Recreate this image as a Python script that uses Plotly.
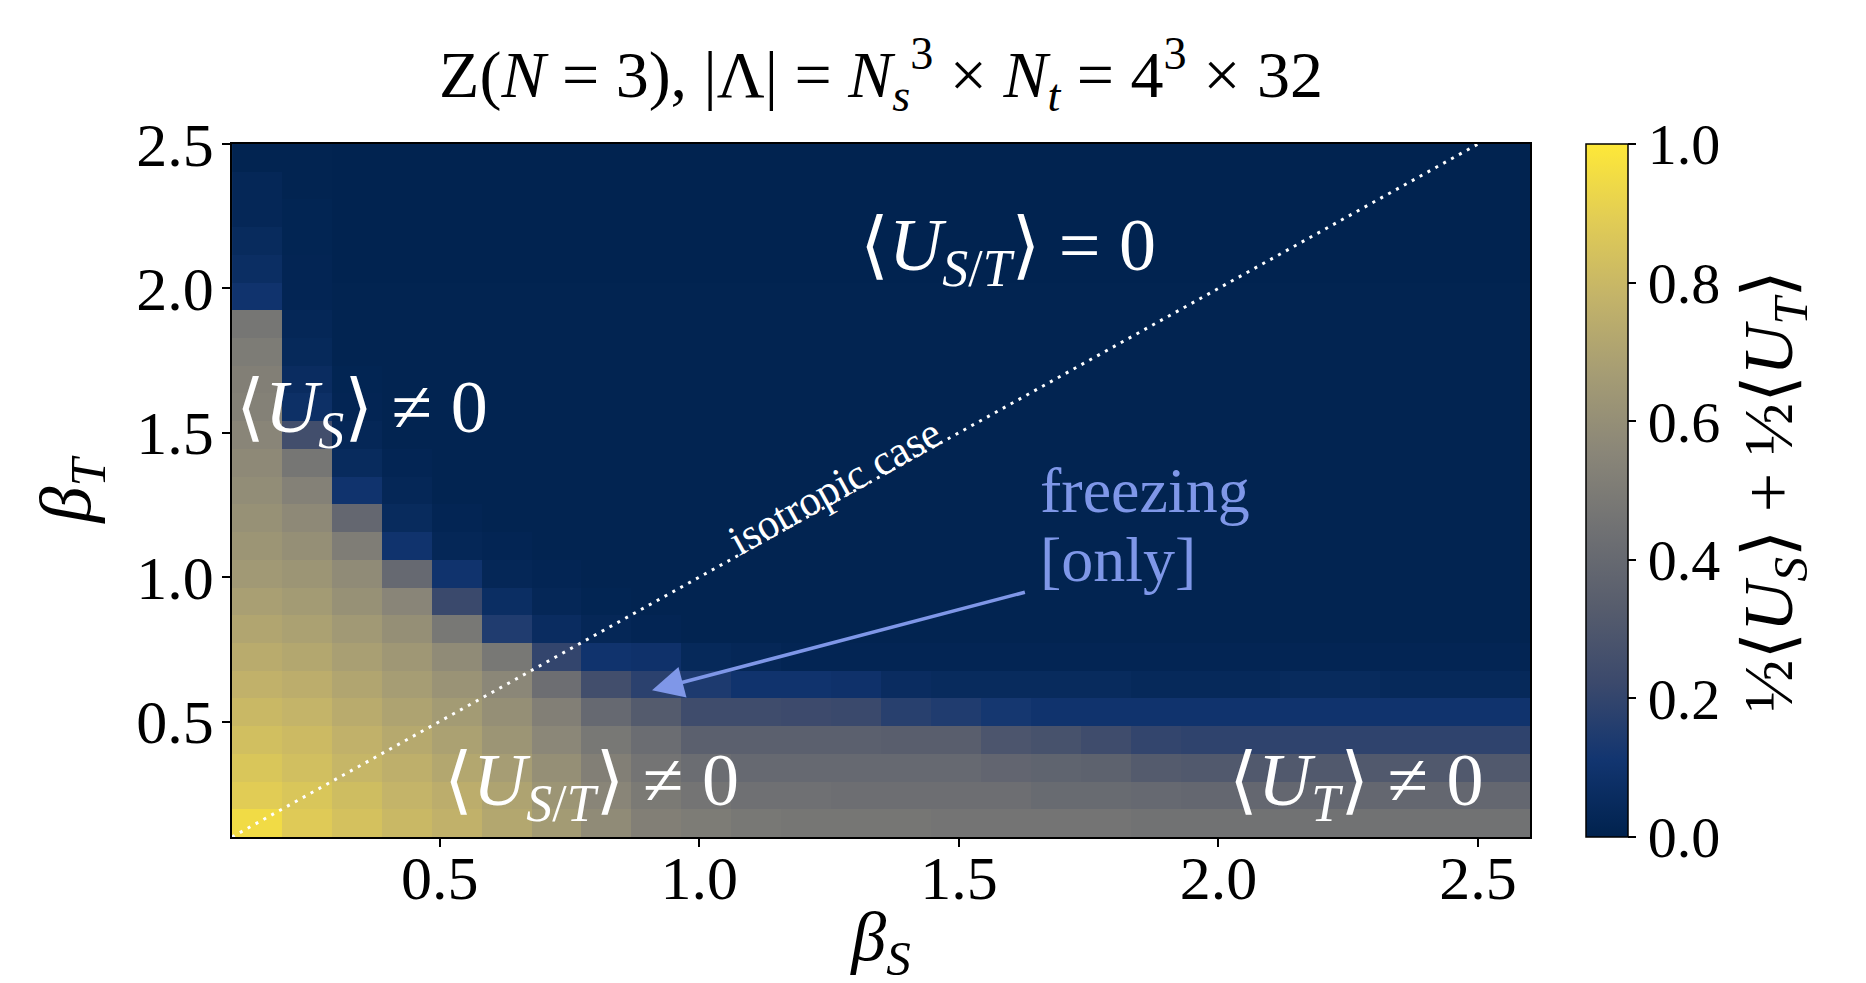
import numpy as np
import plotly.graph_objects as go

# grid of couplings (cell centres)
n_s, n_t = 26, 25
beta_S = list(np.round(0.1 + (np.arange(n_s) + 0.5) * (2.5 / n_s), 4))
beta_T = list(np.round(0.1 + (np.arange(n_t) + 0.5) * (2.4 / n_t), 4))

# order parameter 1/2<U_S> + 1/2<U_T>, one list per beta_T row (bottom -> top)
row00 = [0.95, 0.88, 0.84, 0.80, 0.77, 0.72, 0.66, 0.58, 0.52, 0.50, 0.48, 0.47, 0.47, 0.47, 0.46, 0.46, 0.46, 0.46, 0.45, 0.45, 0.45, 0.45, 0.45, 0.45, 0.45, 0.45]
row01 = [0.89, 0.86, 0.82, 0.78, 0.75, 0.70, 0.63, 0.55, 0.49, 0.46, 0.44, 0.44, 0.43, 0.43, 0.43, 0.43, 0.41, 0.41, 0.40, 0.39, 0.39, 0.39, 0.39, 0.39, 0.39, 0.39]
row02 = [0.86, 0.83, 0.79, 0.76, 0.72, 0.67, 0.60, 0.52, 0.46, 0.42, 0.40, 0.40, 0.40, 0.40, 0.40, 0.38, 0.37, 0.36, 0.32, 0.31, 0.31, 0.31, 0.31, 0.31, 0.31, 0.31]
row03 = [0.83, 0.81, 0.77, 0.73, 0.69, 0.63, 0.56, 0.48, 0.42, 0.35, 0.35, 0.35, 0.35, 0.34, 0.34, 0.29, 0.27, 0.24, 0.20, 0.19, 0.19, 0.19, 0.19, 0.19, 0.19, 0.19]
row04 = [0.80, 0.78, 0.74, 0.70, 0.66, 0.60, 0.52, 0.40, 0.32, 0.24, 0.24, 0.23, 0.22, 0.17, 0.15, 0.12, 0.10, 0.10, 0.10, 0.10, 0.10, 0.10, 0.10, 0.10, 0.10, 0.10]
row05 = [0.77, 0.75, 0.71, 0.67, 0.62, 0.56, 0.43, 0.25, 0.18, 0.14, 0.10, 0.10, 0.09, 0.06, 0.05, 0.05, 0.05, 0.05, 0.04, 0.04, 0.04, 0.05, 0.05, 0.04, 0.04, 0.04]
row06 = [0.74, 0.72, 0.68, 0.64, 0.58, 0.48, 0.20, 0.10, 0.09, 0.04, 0.03, 0.02, 0.02, 0.02, 0.02, 0.02, 0.02, 0.02, 0.02, 0.02, 0.02, 0.02, 0.02, 0.02, 0.02, 0.02]
row07 = [0.71, 0.69, 0.65, 0.60, 0.48, 0.15, 0.06, 0.03, 0.02, 0.01, 0.01, 0.01, 0.01, 0.01, 0.01, 0.01, 0.01, 0.01, 0.01, 0.01, 0.01, 0.01, 0.01, 0.01, 0.01, 0.01]
row08 = [0.68, 0.66, 0.61, 0.55, 0.22, 0.07, 0.03, 0.015, 0.01, 0.01, 0.01, 0.01, 0.01, 0.01, 0.01, 0.01, 0.01, 0.01, 0.01, 0.01, 0.01, 0.01, 0.01, 0.01, 0.01, 0.01]
row09 = [0.65, 0.63, 0.58, 0.40, 0.10, 0.03, 0.02, 0.01, 0.01, 0.01, 0.01, 0.01, 0.01, 0.01, 0.01, 0.01, 0.01, 0.01, 0.01, 0.01, 0.01, 0.01, 0.01, 0.01, 0.01, 0.01]
row10 = [0.63, 0.60, 0.51, 0.10, 0.03, 0.02, 0.01, 0.01, 0.01, 0.01, 0.01, 0.01, 0.01, 0.01, 0.01, 0.01, 0.01, 0.01, 0.01, 0.01, 0.01, 0.01, 0.01, 0.01, 0.01, 0.01]
row11 = [0.61, 0.57, 0.39, 0.05, 0.02, 0.01, 0.01, 0.01, 0.01, 0.01, 0.01, 0.01, 0.01, 0.01, 0.01, 0.01, 0.01, 0.01, 0.01, 0.01, 0.01, 0.01, 0.01, 0.01, 0.01, 0.01]
row12 = [0.59, 0.53, 0.10, 0.03, 0.01, 0.01, 0.01, 0.01, 0.01, 0.01, 0.01, 0.01, 0.01, 0.01, 0.01, 0.01, 0.01, 0.01, 0.01, 0.01, 0.01, 0.01, 0.01, 0.01, 0.01, 0.01]
row13 = [0.57, 0.47, 0.05, 0.02, 0.01, 0.01, 0.01, 0.01, 0.01, 0.01, 0.01, 0.01, 0.01, 0.01, 0.01, 0.01, 0.01, 0.01, 0.01, 0.01, 0.01, 0.01, 0.01, 0.01, 0.01, 0.01]
row14 = [0.55, 0.25, 0.03, 0.01, 0.01, 0.01, 0.01, 0.01, 0.01, 0.01, 0.01, 0.01, 0.01, 0.01, 0.01, 0.01, 0.01, 0.01, 0.01, 0.01, 0.01, 0.01, 0.01, 0.01, 0.01, 0.01]
row15 = [0.53, 0.08, 0.02, 0.01, 0.01, 0.01, 0.01, 0.01, 0.01, 0.01, 0.01, 0.01, 0.01, 0.01, 0.01, 0.01, 0.01, 0.01, 0.01, 0.01, 0.01, 0.01, 0.01, 0.01, 0.01, 0.01]
row16 = [0.52, 0.06, 0.015, 0.01, 0.01, 0.01, 0.01, 0.01, 0.01, 0.01, 0.01, 0.01, 0.01, 0.01, 0.01, 0.01, 0.01, 0.01, 0.01, 0.01, 0.01, 0.01, 0.01, 0.01, 0.01, 0.01]
row17 = [0.50, 0.04, 0.01, 0.01, 0.01, 0.01, 0.01, 0.01, 0.01, 0.01, 0.01, 0.01, 0.01, 0.01, 0.01, 0.01, 0.01, 0.01, 0.01, 0.01, 0.01, 0.01, 0.01, 0.01, 0.01, 0.01]
row18 = [0.47, 0.03, 0.01, 0.01, 0.01, 0.01, 0.01, 0.01, 0.01, 0.01, 0.01, 0.01, 0.01, 0.01, 0.01, 0.01, 0.01, 0.01, 0.01, 0.01, 0.01, 0.01, 0.01, 0.01, 0.01, 0.01]
row19 = [0.10, 0.02, 0.01, 0.01, 0.01, 0.01, 0.01, 0.01, 0.01, 0.01, 0.01, 0.01, 0.01, 0.01, 0.01, 0.01, 0.01, 0.01, 0.01, 0.01, 0.01, 0.01, 0.01, 0.01, 0.01, 0.01]
row20 = [0.07, 0.02, 0.005, 0.005, 0.005, 0.005, 0.005, 0.005, 0.005, 0.005, 0.005, 0.005, 0.005, 0.005, 0.005, 0.005, 0.005, 0.005, 0.005, 0.005, 0.005, 0.005, 0.005, 0.005, 0.005, 0.005]
row21 = [0.05, 0.015, 0.005, 0.005, 0.005, 0.005, 0.005, 0.005, 0.005, 0.005, 0.005, 0.005, 0.005, 0.005, 0.005, 0.005, 0.005, 0.005, 0.005, 0.005, 0.005, 0.005, 0.005, 0.005, 0.005, 0.005]
row22 = [0.03, 0.015, 0.005, 0.005, 0.005, 0.005, 0.005, 0.005, 0.005, 0.005, 0.005, 0.005, 0.005, 0.005, 0.005, 0.005, 0.005, 0.005, 0.005, 0.005, 0.005, 0.005, 0.005, 0.005, 0.005, 0.005]
row23 = [0.03, 0.01, 0.005, 0.005, 0.005, 0.005, 0.005, 0.005, 0.005, 0.005, 0.005, 0.005, 0.005, 0.005, 0.005, 0.005, 0.005, 0.005, 0.005, 0.005, 0.005, 0.005, 0.005, 0.005, 0.005, 0.005]
row24 = [0.01, 0.01, 0.005, 0.005, 0.005, 0.005, 0.005, 0.005, 0.005, 0.005, 0.005, 0.005, 0.005, 0.005, 0.005, 0.005, 0.005, 0.005, 0.005, 0.005, 0.005, 0.005, 0.005, 0.005, 0.005, 0.005]

order_param = [row00, row01, row02, row03, row04, row05, row06, row07, row08, row09,
               row10, row11, row12, row13, row14, row15, row16, row17, row18, row19,
               row20, row21, row22, row23, row24]

iso_line = [0.1, 2.5]
x_ticks = [0.5, 1.0, 1.5, 2.0, 2.5]
y_ticks = [0.5, 1.0, 1.5, 2.0, 2.5]
cb_ticks = [0.0, 0.2, 0.4, 0.6, 0.8, 1.0]

SERIF = "Liberation Serif, Times New Roman, DejaVu Serif, serif"
FREEZE = "#7f97e8"

fig = go.Figure()
fig.add_trace(go.Heatmap(
    x=beta_S, y=beta_T, z=order_param,
    colorscale="Cividis", zmin=0, zmax=1, hoverinfo="skip",
    colorbar=dict(
        x=1.043, xanchor="left", xpad=0, ypad=0,
        y=0.5, yanchor="middle", len=1.0, lenmode="fraction",
        thickness=42, thicknessmode="pixels",
        outlinecolor="black", outlinewidth=1.5,
        ticks="outside", ticklen=8, tickwidth=1.5, tickcolor="black",
        tickvals=cb_ticks, ticktext=[f"{v:.1f}" for v in cb_ticks],
        tickfont=dict(family=SERIF, size=58, color="black"),
    ),
))

fig.add_trace(go.Scatter(
    x=iso_line, y=iso_line, mode="lines",
    line=dict(color="white", width=3, dash="3px,6px"),
    hoverinfo="skip", showlegend=False,
))

ann = []
white_big = dict(family=SERIF, size=74, color="white")
ann.append(dict(x=1.305, y=2.13, xref="x", yref="y", xanchor="left", yanchor="middle",
                text="⟨<i>U</i><sub><i>S</i>/<i>T</i></sub>⟩ = 0", showarrow=False, font=white_big))
ann.append(dict(x=0.103, y=1.57, xref="x", yref="y", xanchor="left", yanchor="middle",
                text="⟨<i>U</i><sub><i>S</i></sub>⟩ ≠ 0", showarrow=False, font=white_big))
ann.append(dict(x=0.505, y=0.28, xref="x", yref="y", xanchor="left", yanchor="middle",
                text="⟨<i>U</i><sub><i>S</i>/<i>T</i></sub>⟩ ≠ 0", showarrow=False, font=white_big))
ann.append(dict(x=2.515, y=0.28, xref="x", yref="y", xanchor="right", yanchor="middle",
                text="⟨<i>U</i><sub><i>T</i></sub>⟩ ≠ 0", showarrow=False, font=white_big))
ann.append(dict(x=1.653, y=1.30, xref="x", yref="y", xanchor="left", yanchor="middle",
                text="freezing", showarrow=False, font=dict(family=SERIF, size=64, color=FREEZE)))
ann.append(dict(x=1.653, y=1.06, xref="x", yref="y", xanchor="left", yanchor="middle",
                text="[only]", showarrow=False, font=dict(family=SERIF, size=64, color=FREEZE)))
ann.append(dict(x=0.909, y=0.608, ax=1.63, ay=0.949, xref="x", yref="y", axref="x", ayref="y",
                text="", showarrow=True, arrowhead=2, arrowsize=1.8, arrowwidth=3.5,
                arrowcolor=FREEZE))
ann.append(dict(x=1.26, y=1.315, xref="x", yref="y", xanchor="center", yanchor="middle",
                text="isotropic case", textangle=-29.1, showarrow=False,
                font=dict(family=SERIF, size=43, color="white")))
# colorbar label
ann.append(dict(x=1.1875, y=0.5, xref="paper", yref="paper", xanchor="center", yanchor="middle",
                text="½⟨<i>U</i><sub><i>S</i></sub>⟩ + ½⟨<i>U</i><sub><i>T</i></sub>⟩",
                textangle=-90, showarrow=False,
                font=dict(family=SERIF, size=70, color="black")))

fig.update_layout(
    width=1866, height=983,
    margin=dict(l=224, r=344, t=136, b=154, autoexpand=False),
    paper_bgcolor="white", plot_bgcolor="white",
    font=dict(family=SERIF, color="black"),
    title=dict(
        text="Z(<i>N</i> = 3), |Λ| = <i>N</i><sub><i>s</i></sub><sup>3</sup> × <i>N</i><sub><i>t</i></sub> = 4<sup>3</sup> × 32",
        x=0.5, xref="paper", xanchor="center", y=0.933, yref="container", yanchor="middle",
        font=dict(family=SERIF, size=66, color="black"),
    ),
    xaxis=dict(
        range=[0.1, 2.6], tickvals=x_ticks, ticktext=[f"{v:.1f}" for v in x_ticks],
        ticks="outside", ticklen=8, tickwidth=1.5, tickcolor="black",
        ticklabelstandoff=-22,
        showline=True, linecolor="black", linewidth=1.5, mirror=True,
        showgrid=False, zeroline=False,
        tickfont=dict(family=SERIF, size=62, color="black"),
        title=dict(text="<i>β</i><sub><i>S</i></sub>", standoff=0,
                   font=dict(family=SERIF, size=70, color="black")),
    ),
    yaxis=dict(
        range=[0.1, 2.5], tickvals=y_ticks, ticktext=[f"{v:.1f}" for v in y_ticks],
        ticks="outside", ticklen=8, tickwidth=1.5, tickcolor="black",
        ticklabelstandoff=-4,
        showline=True, linecolor="black", linewidth=1.5, mirror=True,
        showgrid=False, zeroline=False,
        tickfont=dict(family=SERIF, size=62, color="black"),
        title=dict(text="<i>β</i><sub><i>T</i></sub>", standoff=22,
                   font=dict(family=SERIF, size=72, color="black")),
    ),
    annotations=ann,
    showlegend=False,
)

fig.write_html("out.html")
